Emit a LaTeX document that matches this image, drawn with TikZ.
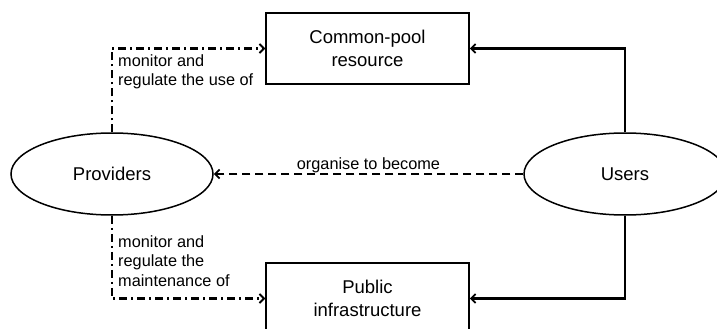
\documentclass[tikz,border=0pt]{standalone}
\usepackage{fontspec}
\setmainfont{Liberation Sans}
\usetikzlibrary{shapes.geometric,arrows.meta}
\begin{document}
\begin{tikzpicture}[x=1pt,y=-1pt,
  boxnode/.style={draw,line width=1.5pt,minimum width=203pt,minimum height=71pt,inner sep=0pt,align=center,font=\fontsize{18.5}{23}\selectfont},
  ellnode/.style={draw,ellipse,line width=1.5pt,minimum width=202pt,minimum height=82pt,inner sep=0pt,font=\fontsize{18.5}{23}\selectfont},
  lbl/.style={inner sep=0pt,align=left,font=\fontsize{16.3}{19.6}\selectfont},
  conn/.style={line width=2.3pt,-{Straight Barb[length=4.5pt,width=9pt,line width=1.8pt]}},
  dashdot/.style={dash pattern=on 8pt off 4pt on 2pt off 4pt},
  dashline/.style={dash pattern=on 8pt off 5pt}]
\useasboundingbox (0,0) rectangle (717,329);
\clip (0,0) rectangle (717,329);
\node[boxnode] (cpr) at (367.5,48.5) {Common-pool\\resource};
\node[boxnode] (pi) at (367.5,298.5) {Public\\infrastructure};
\node[ellnode] (prov) at (112,174) {Providers};
\node[ellnode] (users) at (625,174) {Users};
\draw[conn,dashdot] (prov.north) |- (cpr.west);
\draw[conn,dashdot] (prov.south) |- (pi.west);
\draw[conn,dashline] (users.west) -- node[lbl,above=0pt,pos=0.5] (org) {organise to become} (prov.east);
\draw[conn] (users.north) |- (cpr.east);
\draw[conn] (users.south) |- (pi.east);
\node[lbl,anchor=north west] (l1) at (118,54) {monitor and\\regulate the use of};
\node[lbl,anchor=north west] (l2) at (118,235) {monitor and\\regulate the\\maintenance of};
\end{tikzpicture}
\end{document}
